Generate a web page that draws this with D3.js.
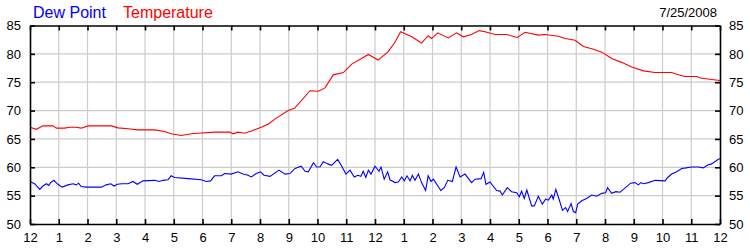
<!DOCTYPE html>
<html>
<head>
<meta charset="utf-8">
<script src="https://cdn.jsdelivr.net/npm/d3@7"></script>
<style>
  html, body { margin: 0; padding: 0; background: #fff; }
  #chart { width: 750px; height: 250px; }
  text { font-family: Arial, "Liberation Sans", sans-serif; }
</style>
</head>
<body>
<div id="chart"></div>
<script>
// hours since midnight
const tempHours = [0, 0.22, 0.45, 0.8, 0.92, 1.2, 1.38, 1.61, 1.78, 2.02, 2.83, 3.06, 3.41, 3.76, 4.34, 4.68, 4.91, 5.26, 5.61, 5.84,
  6.42, 6.95, 7.06, 7.23, 7.47, 7.7, 8.04, 8.28, 8.52, 8.98, 9.2, 9.74, 10.03, 10.26, 10.55, 10.9, 11.19, 11.77, 12.11, 12.46,
  12.7, 12.89, 13.28, 13.62, 13.85, 13.97, 14.18, 14.55, 14.84, 15.07, 15.36, 15.62, 15.83, 16.17, 16.58, 16.95, 17.22, 17.68, 17.91, 18.38,
  18.61, 18.96, 19.25, 19.54, 19.89, 20.23, 20.58, 20.93, 21.34, 21.74, 22.32, 22.49, 22.78, 23.19, 23.36, 24];
const tempValues = [67.05, 66.7, 67.3, 67.3, 66.9, 66.9, 67.05, 67.05, 66.9, 67.3, 67.3, 66.95, 66.8, 66.6, 66.6, 66.3, 65.9, 65.6, 65.9, 66.0,
  66.2, 66.2, 65.9, 66.2, 66.0, 66.4, 67.05, 67.6, 68.5, 70.0, 70.4, 73.5, 73.4, 74.0, 76.3, 76.7, 78.2, 79.9, 78.9, 80.4,
  82.1, 83.9, 83.0, 81.9, 83.2, 82.7, 83.7, 82.8, 83.7, 83.0, 83.4, 84.1, 83.9, 83.4, 83.4, 82.9, 83.8, 83.3, 83.4, 83.1,
  82.7, 82.4, 81.3, 80.9, 80.3, 79.2, 78.5, 77.7, 77.0, 76.7, 76.7, 76.4, 76.0, 76.0, 75.7, 75.3];

const dewHours = [0, 0.16, 0.34, 0.45, 0.57, 0.65, 0.72, 0.83, 0.97, 1.12, 1.32, 1.5, 1.61, 1.69, 1.78, 1.96, 2.48, 2.65, 2.81, 2.92,
  3.04, 3.2, 3.41, 3.58, 3.73, 3.93, 4.34, 4.49, 4.63, 4.8, 4.91, 5.03, 5.5, 5.96, 6.13, 6.28, 6.42, 6.66, 6.77, 7.0,
  7.23, 7.41, 7.58, 7.7, 7.87, 8.02, 8.14, 8.35, 8.66, 8.87, 9.04, 9.22, 9.43, 9.57, 9.68, 9.86, 9.97, 10.09, 10.2, 10.36,
  10.49, 10.7, 10.82, 10.99, 11.13, 11.28, 11.4, 11.51, 11.59, 11.68, 11.77, 11.86, 12.0, 12.14, 12.21, 12.32, 12.44, 12.52, 12.7, 12.81,
  12.93, 13.02, 13.11, 13.22, 13.3, 13.39, 13.51, 13.62, 13.76, 13.85, 13.95, 14.03, 14.29, 14.41, 14.53, 14.69, 14.82, 14.96, 15.13, 15.36,
  15.48, 15.69, 15.78, 15.86, 16.0, 16.23, 16.35, 16.43, 16.6, 16.75, 16.93, 17.02, 17.1, 17.19, 17.28, 17.45, 17.54, 17.68, 17.82, 17.94,
  18.03, 18.15, 18.2, 18.29, 18.4, 18.52, 18.63, 18.7, 18.82, 18.9, 18.98, 19.05, 19.19, 19.36, 19.54, 19.71, 19.89, 20.02, 20.09, 20.23,
  20.38, 20.52, 20.64, 20.89, 21.04, 21.16, 21.25, 21.33, 21.51, 21.74, 22.09, 22.18, 22.32, 22.49, 22.67, 22.82, 23.01, 23.24, 23.42, 23.57,
  23.71, 23.94, 24];
const dewValues = [57.5, 57.1, 56.1, 56.7, 57.1, 56.8, 57.3, 57.7, 57.0, 56.5, 56.9, 57.1, 56.9, 57.2, 56.6, 56.5, 56.5, 56.9, 57.1, 56.7,
  57.0, 57.1, 57.1, 57.5, 57.0, 57.6, 57.7, 57.5, 57.7, 57.8, 58.5, 58.2, 58.0, 57.8, 57.5, 57.6, 58.5, 58.5, 58.9, 58.8,
  59.2, 58.8, 58.6, 58.3, 58.9, 59.2, 58.6, 58.4, 59.5, 58.8, 58.9, 59.8, 60.2, 59.3, 59.2, 60.8, 60.05, 60.1, 61.0, 60.6,
  60.35, 61.4, 60.4, 58.8, 59.5, 58.3, 58.6, 58.4, 59.3, 58.2, 59.5, 58.8, 60.2, 59.3, 60.05, 57.9, 59.2, 57.8, 57.3, 57.4,
  58.3, 57.6, 58.5, 57.6, 58.6, 57.7, 58.8, 57.3, 55.9, 58.5, 57.5, 57.9, 55.9, 56.4, 57.7, 57.5, 60.05, 58.3, 58.8, 57.3,
  57.9, 58.0, 59.1, 57.0, 57.4, 55.9, 55.8, 55.1, 56.4, 55.7, 55.5, 54.8, 55.8, 54.5, 56.0, 53.2, 53.2, 54.9, 53.5, 54.4,
  54.2, 55.1, 54.4, 56.1, 54.4, 52.4, 52.9, 52.2, 53.6, 52.2, 52.0, 53.5, 54.1, 54.5, 55.1, 54.9, 55.4, 55.5, 56.4, 55.4,
  55.7, 55.6, 56.1, 57.2, 57.3, 56.9, 57.3, 57.1, 57.3, 57.7, 57.6, 58.2, 58.8, 59.2, 59.8, 59.9, 60.05, 60.05, 59.9, 60.4,
  60.6, 61.4, 61.5];

const hourLabels = ["12", "1", "2", "3", "4", "5", "6", "7", "8", "9", "10", "11",
  "12", "1", "2", "3", "4", "5", "6", "7", "8", "9", "10", "11", "12"];
const yTicks = [50, 55, 60, 65, 70, 75, 80, 85];
const seriesNames = ["Dew Point", "Temperature"];
const dateLabel = "7/25/2008";

const width = 750, height = 250;
const margin = { top: 25.5, right: 30, bottom: 26, left: 30 };

const svg = d3.select("#chart").append("svg")
  .attr("width", width)
  .attr("height", height);

const x = d3.scaleLinear().domain([0, 24]).range([margin.left, width - margin.right]);
const y = d3.scaleLinear().domain([50, 85]).range([height - margin.bottom, margin.top]);

const hourTicks = d3.range(0, 25);

// grid
svg.append("g").selectAll("line.vgrid")
  .data(hourTicks.slice(1, -1))
  .enter().append("line")
  .attr("x1", d => x(d)).attr("x2", d => x(d))
  .attr("y1", y(85)).attr("y2", y(50))
  .attr("stroke", "#cccccc").attr("stroke-width", 1.2);

svg.append("g").selectAll("line.hgrid")
  .data(yTicks.slice(1, -1))
  .enter().append("line")
  .attr("x1", x(0)).attr("x2", x(24))
  .attr("y1", d => y(d)).attr("y2", d => y(d))
  .attr("stroke", "#cccccc").attr("stroke-width", 1.2);

// lines
const line = d3.line().x(d => x(d[0])).y(d => y(d[1]));

svg.append("path")
  .datum(tempHours.map((h, i) => [h, tempValues[i]]))
  .attr("fill", "none").attr("stroke", "#ff0000").attr("stroke-width", 1.1)
  .attr("d", line);

svg.append("path")
  .datum(dewHours.map((h, i) => [h, dewValues[i]]))
  .attr("fill", "none").attr("stroke", "#0000ff").attr("stroke-width", 1.1)
  .attr("d", line);

// axes, ticks pointing inward
const bottomAxis = svg.append("g")
  .attr("transform", `translate(0,${y(50)})`)
  .call(d3.axisBottom(x).tickValues(hourTicks).tickSizeInner(-5).tickSizeOuter(0)
    .tickPadding(9).tickFormat(d => hourLabels[d]));

const topAxis = svg.append("g")
  .attr("transform", `translate(0,${y(85)})`)
  .call(d3.axisTop(x).tickValues(hourTicks).tickSizeInner(-5).tickSizeOuter(0).tickFormat(""));

const leftAxis = svg.append("g")
  .attr("transform", `translate(${x(0)},0)`)
  .call(d3.axisLeft(y).tickValues(yTicks).tickSizeInner(-5).tickSizeOuter(0).tickPadding(9));

const rightAxis = svg.append("g")
  .attr("transform", `translate(${x(24)},0)`)
  .call(d3.axisRight(y).tickValues(yTicks).tickSizeInner(-5).tickSizeOuter(0).tickPadding(9));

[bottomAxis, topAxis, leftAxis, rightAxis].forEach(g => {
  g.select(".domain").attr("stroke", "#000").attr("stroke-width", 1.6);
  g.selectAll(".tick line").attr("stroke", "#000").attr("stroke-width", 1.6);
  g.selectAll("text")
    .attr("fill", "#000")
    .style("font-size", "13px")
    .style("font-family", "Arial, 'Liberation Sans', sans-serif");
});

// legend / header
const legendColors = ["#0000ff", "#ff0000"];
const legendX = [33, 123];
svg.selectAll("text.legend")
  .data(seriesNames)
  .enter().append("text")
  .attr("class", "legend")
  .attr("x", (d, i) => legendX[i])
  .attr("y", 18)
  .attr("fill", (d, i) => legendColors[i])
  .style("font-size", "16px")
  .text(d => d);

svg.append("text")
  .attr("x", 717)
  .attr("y", 17)
  .attr("text-anchor", "end")
  .attr("fill", "#000")
  .style("font-size", "13px")
  .text(dateLabel);
</script>
</body>
</html>
